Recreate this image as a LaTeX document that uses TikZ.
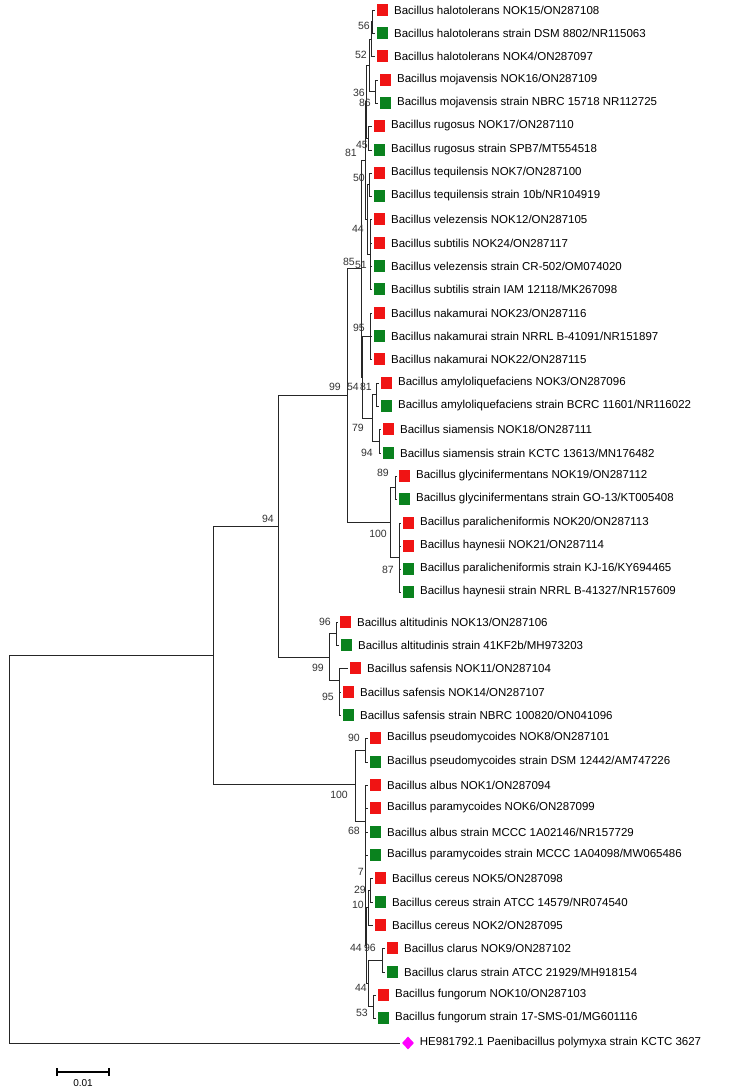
\documentclass[tikz,border=0pt]{standalone}
\usepackage{fontspec}
\setmainfont{Liberation Sans}
\usetikzlibrary{positioning,shapes.geometric}
\definecolor{sqred}{RGB}{240,20,20}
\definecolor{sqgreen}{RGB}{10,130,30}
\definecolor{outpink}{RGB}{255,0,255}

\begin{document}
\begin{tikzpicture}[x=1pt,y=-1pt,node distance=5.5pt,
   branch/.style={draw=black!85,line width=0.9pt},
   tip/.style={branch,shorten >=2pt},
   sq/.style={rectangle,minimum size=11.5pt,inner sep=0pt},
   ownsq/.style={sq,fill=sqred},
   refsq/.style={sq,fill=sqgreen},
   outg/.style={diamond,fill=outpink,inner sep=0pt,minimum width=12pt,minimum height=13pt},
   taxon/.style={font=\fontsize{11.5}{13}\selectfont,inner sep=0pt},
   boot/.style={font=\fontsize{10.5}{12}\selectfont,text=black!80,inner sep=0pt,anchor=east}]
   \useasboundingbox (0,0) rectangle (732,1089);

   \node [ownsq] (s_1) at (382.5,10) {};   \node [taxon,right=of s_1] (t_1) {Bacillus halotolerans NOK15/ON287108};
   \node [refsq] (s_2) at (382.5,33) {};   \node [taxon,right=of s_2] (t_2) {Bacillus halotolerans strain DSM 8802/NR115063};
   \node [ownsq] (s_3) at (382.5,56) {};   \node [taxon,right=of s_3] (t_3) {Bacillus halotolerans NOK4/ON287097};
   \node [ownsq] (s_4) at (385.5,80) {};   \node [taxon,right=of s_4] (t_4) {Bacillus mojavensis NOK16/ON287109};
   \node [refsq] (s_5) at (385.5,103) {};  \node [taxon,right=of s_5] (t_5) {Bacillus mojavensis strain NBRC 15718 NR112725};
   \node [ownsq] (s_6) at (379.5,126) {};  \node [taxon,right=of s_6] (t_6) {Bacillus rugosus NOK17/ON287110};
   \node [refsq] (s_7) at (379.5,150) {};  \node [taxon,right=of s_7] (t_7) {Bacillus rugosus strain SPB7/MT554518};
   \node [ownsq] (s_8) at (379.5,173) {};  \node [taxon,right=of s_8] (t_8) {Bacillus tequilensis NOK7/ON287100};
   \node [refsq] (s_9) at (379.5,196) {};  \node [taxon,right=of s_9] (t_9) {Bacillus tequilensis strain 10b/NR104919};
   \node [ownsq] (s_10) at (379.5,219) {}; \node [taxon,right=of s_10] (t_10) {Bacillus velezensis NOK12/ON287105};
   \node [ownsq] (s_11) at (379.5,243) {}; \node [taxon,right=of s_11] (t_11) {Bacillus subtilis NOK24/ON287117};
   \node [refsq] (s_12) at (379.5,266) {}; \node [taxon,right=of s_12] (t_12) {Bacillus velezensis strain CR-502/OM074020};
   \node [refsq] (s_13) at (379.5,289) {}; \node [taxon,right=of s_13] (t_13) {Bacillus subtilis strain IAM 12118/MK267098};
   \node [ownsq] (s_14) at (379.5,313) {}; \node [taxon,right=of s_14] (t_14) {Bacillus nakamurai NOK23/ON287116};
   \node [refsq] (s_15) at (379.5,336) {}; \node [taxon,right=of s_15] (t_15) {Bacillus nakamurai strain NRRL B-41091/NR151897};
   \node [ownsq] (s_16) at (379.5,359) {}; \node [taxon,right=of s_16] (t_16) {Bacillus nakamurai NOK22/ON287115};
   \node [ownsq] (s_17) at (386.5,383) {}; \node [taxon,right=of s_17] (t_17) {Bacillus amyloliquefaciens NOK3/ON287096};
   \node [refsq] (s_18) at (386.5,406) {}; \node [taxon,right=of s_18] (t_18) {Bacillus amyloliquefaciens strain BCRC 11601/NR116022};
   \node [ownsq] (s_19) at (388.5,429) {}; \node [taxon,right=of s_19] (t_19) {Bacillus siamensis NOK18/ON287111};
   \node [refsq] (s_20) at (388.5,453) {}; \node [taxon,right=of s_20] (t_20) {Bacillus siamensis strain KCTC 13613/MN176482};
   \node [ownsq] (s_21) at (404.5,476) {}; \node [taxon,right=of s_21] (t_21) {Bacillus glycinifermentans NOK19/ON287112};
   \node [refsq] (s_22) at (404.5,499) {}; \node [taxon,right=of s_22] (t_22) {Bacillus glycinifermentans strain GO-13/KT005408};
   \node [ownsq] (s_23) at (408.5,523) {}; \node [taxon,right=of s_23] (t_23) {Bacillus paralicheniformis NOK20/ON287113};
   \node [ownsq] (s_24) at (408.5,546) {}; \node [taxon,right=of s_24] (t_24) {Bacillus haynesii NOK21/ON287114};
   \node [refsq] (s_25) at (408.5,569) {}; \node [taxon,right=of s_25] (t_25) {Bacillus paralicheniformis strain KJ-16/KY694465};
   \node [refsq] (s_26) at (408.5,592) {}; \node [taxon,right=of s_26] (t_26) {Bacillus haynesii strain NRRL B-41327/NR157609};
   \node [ownsq] (s_27) at (345.5,622) {}; \node [taxon,right=of s_27] (t_27) {Bacillus altitudinis NOK13/ON287106};
   \node [refsq] (s_28) at (346.5,645) {}; \node [taxon,right=of s_28] (t_28) {Bacillus altitudinis strain 41KF2b/MH973203};
   \node [ownsq] (s_29) at (355.5,668) {}; \node [taxon,right=of s_29] (t_29) {Bacillus safensis NOK11/ON287104};
   \node [ownsq] (s_30) at (348.5,692) {}; \node [taxon,right=of s_30] (t_30) {Bacillus safensis NOK14/ON287107};
   \node [refsq] (s_31) at (348.5,715) {}; \node [taxon,right=of s_31] (t_31) {Bacillus safensis strain NBRC 100820/ON041096};
   \node [ownsq] (s_32) at (375.5,738) {}; \node [taxon,right=of s_32] (t_32) {Bacillus pseudomycoides NOK8/ON287101};
   \node [refsq] (s_33) at (375.5,762) {}; \node [taxon,right=of s_33] (t_33) {Bacillus pseudomycoides strain DSM 12442/AM747226};
   \node [ownsq] (s_34) at (375.5,785) {}; \node [taxon,right=of s_34] (t_34) {Bacillus albus NOK1/ON287094};
   \node [ownsq] (s_35) at (375.5,808) {}; \node [taxon,right=of s_35] (t_35) {Bacillus paramycoides NOK6/ON287099};
   \node [refsq] (s_36) at (375.5,832) {}; \node [taxon,right=of s_36] (t_36) {Bacillus albus strain MCCC 1A02146/NR157729};
   \node [refsq] (s_37) at (375.5,855) {}; \node [taxon,right=of s_37] (t_37) {Bacillus paramycoides strain MCCC 1A04098/MW065486};
   \node [ownsq] (s_38) at (380.5,878) {}; \node [taxon,right=of s_38] (t_38) {Bacillus cereus NOK5/ON287098};
   \node [refsq] (s_39) at (380.5,902) {}; \node [taxon,right=of s_39] (t_39) {Bacillus cereus strain ATCC 14579/NR074540};
   \node [ownsq] (s_40) at (380.5,925) {}; \node [taxon,right=of s_40] (t_40) {Bacillus cereus NOK2/ON287095};
   \node [ownsq] (s_41) at (392.5,948) {}; \node [taxon,right=of s_41] (t_41) {Bacillus clarus NOK9/ON287102};
   \node [refsq] (s_42) at (392.5,972) {}; \node [taxon,right=of s_42] (t_42) {Bacillus clarus strain ATCC 21929/MH918154};
   \node [ownsq] (s_43) at (383.5,995) {}; \node [taxon,right=of s_43] (t_43) {Bacillus fungorum NOK10/ON287103};
   \node [refsq] (s_44) at (383.5,1018) {}; \node [taxon,right=of s_44] (t_44) {Bacillus fungorum strain 17-SMS-01/MG601116};
   \node [outg] (s_45) at (408,1043) {}; \node [taxon,right=of s_45] (t_45) {HE981792.1 Paenibacillus polymyxa strain KCTC 3627};

   \coordinate (c_halo) at (372,21.5);
   \coordinate (c_halo2) at (371,39);
   \coordinate (c_moj) at (375,91.5);
   \coordinate (c_halomoj) at (369,65);
   \coordinate (c_rug) at (368,138);
   \coordinate (c_p1) at (366,101.5);
   \coordinate (c_teq) at (369,184.5);
   \coordinate (c_vel) at (370,254);
   \coordinate (c_teqvel) at (367,219);
   \coordinate (c_upper) at (365,160);
   \coordinate (c_nak) at (370,336);
   \coordinate (c_amy) at (376,394.5);
   \coordinate (c_sia) at (379,441);
   \coordinate (c_amysia) at (372,418);
   \coordinate (c_lower) at (362,377);
   \coordinate (c_subt) at (361,268.5);
   \coordinate (c_gly) at (395,487.5);
   \coordinate (c_par) at (399,557.5);
   \coordinate (c_lich) at (390,522.5);
   \coordinate (c_sl) at (347,395.5);
   \coordinate (c_alt) at (336,633.5);
   \coordinate (c_saf) at (339,680);
   \coordinate (c_pum) at (329,657);
   \coordinate (c_bs) at (278,526);
   \coordinate (c_pse) at (365,750);
   \coordinate (c_ce1) at (370,890);
   \coordinate (c_ce2) at (368,907.5);
   \coordinate (c_cla) at (382,960);
   \coordinate (c_fun) at (373,1006.5);
   \coordinate (c_clafun) at (368,983);
   \coordinate (c_cc) at (366,945);
   \coordinate (c_alb) at (365,821);
   \coordinate (c_cer) at (355,784);
   \coordinate (c_bac) at (213,655);
   \coordinate (c_root) at (9,849);

   \draw[tip] (c_halo) |- (s_1.west);
   \draw[tip] (c_halo) |- (s_2.west);
   \draw[branch] (c_halo2) |- (c_halo);
   \draw[tip] (c_halo2) |- (s_3.west);
   \draw[tip] (c_moj) |- (s_4.west);
   \draw[tip] (c_moj) |- (s_5.west);
   \draw[branch] (c_halomoj) |- (c_halo2);
   \draw[branch] (c_halomoj) |- (c_moj);
   \draw[tip] (c_rug) |- (s_6.west);
   \draw[tip] (c_rug) |- (s_7.west);
   \draw[branch] (c_p1) |- (c_halomoj);
   \draw[branch] (c_p1) |- (c_rug);
   \draw[tip] (c_teq) |- (s_8.west);
   \draw[tip] (c_teq) |- (s_9.west);
   \draw[tip] (c_vel) |- (s_10.west);
   \draw[tip] (c_vel) |- (s_11.west);
   \draw[tip] (c_vel) |- (s_12.west);
   \draw[tip] (c_vel) |- (s_13.west);
   \draw[branch] (c_teqvel) |- (c_teq);
   \draw[branch] (c_teqvel) |- (c_vel);
   \draw[branch] (c_upper) |- (c_p1);
   \draw[branch] (c_upper) |- (c_teqvel);
   \draw[tip] (c_nak) |- (s_14.west);
   \draw[tip] (c_nak) |- (s_15.west);
   \draw[tip] (c_nak) |- (s_16.west);
   \draw[tip] (c_amy) |- (s_17.west);
   \draw[tip] (c_amy) |- (s_18.west);
   \draw[tip] (c_sia) |- (s_19.west);
   \draw[tip] (c_sia) |- (s_20.west);
   \draw[branch] (c_amysia) |- (c_amy);
   \draw[branch] (c_amysia) |- (c_sia);
   \draw[branch] (c_lower) |- (c_nak);
   \draw[branch] (c_lower) |- (c_amysia);
   \draw[branch] (c_subt) |- (c_upper);
   \draw[branch] (c_subt) |- (c_lower);
   \draw[tip] (c_gly) |- (s_21.west);
   \draw[tip] (c_gly) |- (s_22.west);
   \draw[tip] (c_par) |- (s_23.west);
   \draw[tip] (c_par) |- (s_24.west);
   \draw[tip] (c_par) |- (s_25.west);
   \draw[tip] (c_par) |- (s_26.west);
   \draw[branch] (c_lich) |- (c_gly);
   \draw[branch] (c_lich) |- (c_par);
   \draw[branch] (c_sl) |- (c_subt);
   \draw[branch] (c_sl) |- (c_lich);
   \draw[tip] (c_alt) |- (s_27.west);
   \draw[tip] (c_alt) |- (s_28.west);
   \draw[tip] (c_saf) |- (s_29.west);
   \draw[tip] (c_saf) |- (s_30.west);
   \draw[tip] (c_saf) |- (s_31.west);
   \draw[branch] (c_pum) |- (c_alt);
   \draw[branch] (c_pum) |- (c_saf);
   \draw[branch] (c_bs) |- (c_sl);
   \draw[branch] (c_bs) |- (c_pum);
   \draw[tip] (c_pse) |- (s_32.west);
   \draw[tip] (c_pse) |- (s_33.west);
   \draw[tip] (c_ce1) |- (s_38.west);
   \draw[tip] (c_ce1) |- (s_39.west);
   \draw[branch] (c_ce2) |- (c_ce1);
   \draw[tip] (c_ce2) |- (s_40.west);
   \draw[tip] (c_cla) |- (s_41.west);
   \draw[tip] (c_cla) |- (s_42.west);
   \draw[tip] (c_fun) |- (s_43.west);
   \draw[tip] (c_fun) |- (s_44.west);
   \draw[branch] (c_clafun) |- (c_cla);
   \draw[branch] (c_clafun) |- (c_fun);
   \draw[branch] (c_cc) |- (c_ce2);
   \draw[branch] (c_cc) |- (c_clafun);
   \draw[tip] (c_alb) |- (s_34.west);
   \draw[tip] (c_alb) |- (s_35.west);
   \draw[tip] (c_alb) |- (s_36.west);
   \draw[tip] (c_alb) |- (s_37.west);
   \draw[branch] (c_alb) |- (c_cc);
   \draw[branch] (c_cer) |- (c_pse);
   \draw[branch] (c_cer) |- (c_alb);
   \draw[branch] (c_bac) |- (c_bs);
   \draw[branch] (c_bac) |- (c_cer);
   \draw[branch] (c_root) |- (c_bac);
   \draw[tip] (c_root) |- (s_45.west);

   \node [boot] (b_1) at (370,26) {56};
   \node [boot] (b_2) at (367,55) {52};
   \node [boot] (b_3) at (365,93) {36};
   \node [boot] (b_4) at (371,103) {86};
   \node [boot] (b_5) at (368,145) {45};
   \node [boot] (b_6) at (357,153) {81};
   \node [boot] (b_7) at (365,178) {50};
   \node [boot] (b_8) at (364,229) {44};
   \node [boot] (b_9) at (355,262) {85};
   \node [boot] (b_10) at (367,265) {51};
   \node [boot] (b_11) at (365,328) {95};
   \node [boot] (b_12) at (341,387) {99};
   \node [boot] (b_13) at (359,387) {54};
   \node [boot] (b_14) at (372,387) {81};
   \node [boot] (b_15) at (364,428) {79};
   \node [boot] (b_16) at (373,453) {94};
   \node [boot] (b_17) at (389,473) {89};
   \node [boot] (b_18) at (387,534) {100};
   \node [boot] (b_19) at (394,570) {87};
   \node [boot] (b_20) at (274,519) {94};
   \node [boot] (b_21) at (331,622) {96};
   \node [boot] (b_22) at (324,668) {99};
   \node [boot] (b_23) at (334,697) {95};
   \node [boot] (b_24) at (360,738) {90};
   \node [boot] (b_25) at (348,795) {100};
   \node [boot] (b_26) at (360,831) {68};
   \node [boot] (b_27) at (364,872) {7};
   \node [boot] (b_28) at (366,890) {29};
   \node [boot] (b_29) at (364,905) {10};
   \node [boot] (b_30) at (362,948) {44};
   \node [boot] (b_31) at (376,948) {96};
   \node [boot] (b_32) at (367,988) {44};
   \node [boot] (b_33) at (368,1013) {53};

   \coordinate (sb_l) at (57,1072);
   \coordinate (sb_r) at (109,1072);
   \draw[line width=1.6pt] (sb_l) -- (sb_r);
   \draw[line width=1.6pt] ([yshift=4pt]sb_l) -- ([yshift=-4pt]sb_l);
   \draw[line width=1.6pt] ([yshift=4pt]sb_r) -- ([yshift=-4pt]sb_r);
   \node [font=\fontsize{10}{12}\selectfont,inner sep=0pt] (sb_t) at (83,1083) {0.01};
\end{tikzpicture}
\end{document}
